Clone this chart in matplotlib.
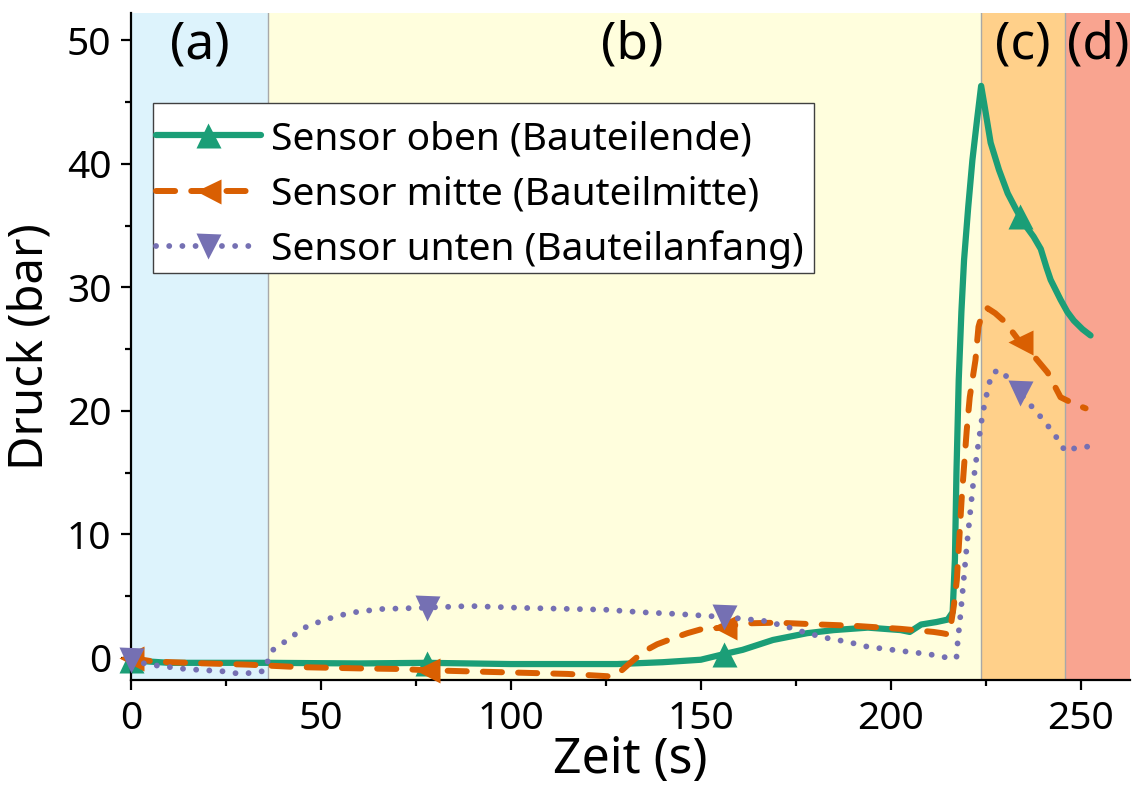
import numpy as np
import matplotlib
matplotlib.use("Agg")
import matplotlib.pyplot as plt
from matplotlib.lines import Line2D
from matplotlib.patches import Rectangle

plt.rcParams['font.family'] = ['Noto Sans', 'DejaVu Sans']

# ---- data ----
oben_x = [0, 10, 36, 60, 78, 100, 128, 140, 150, 156, 161, 169, 178, 185, 194, 202.6, 205, 208, 212, 215,
          216.3, 216.9, 217.3, 217.9, 218.6, 219.3, 220.4, 221.5, 222.7, 223.8, 224.8, 226.3, 228.5, 230.8,
          233, 235, 237.6, 239.5, 241.0, 242.1, 244.7, 246.5, 248.2, 250.5, 252.6]
oben_y = [-0.2, -0.4, -0.4, -0.45, -0.4, -0.5, -0.5, -0.35, -0.15, 0.3, 0.65, 1.45, 2.0, 2.25, 2.45, 2.25, 2.1, 2.7, 2.9, 3.1,
          3.7, 8, 15, 22.5, 28, 32.2, 36.5, 40.3, 43.5, 46.3, 44.5, 41.7, 39.5, 37.6,
          36.3, 35.2, 34.1, 33.1, 31.6, 30.6, 29.0, 28.0, 27.3, 26.6, 26.1]

mitte_x = [0, 6, 20, 31, 44.5, 60, 71, 78, 90, 102.5, 115, 123.5, 126.2, 128.5, 130.7, 134.9, 138.5, 142.8, 146.5,
           149.9, 155.7, 160, 163, 170, 181.5, 190.2, 202.6, 211.3, 213.5, 215.2, 215.9, 216.6, 217.4, 218.7, 220,
           220.8, 222.3, 223.1, 224.2, 225.5, 227.5, 229.7, 232, 234.2, 237.5, 241.3, 244.7, 248, 251.3]
mitte_y = [0, -0.3, -0.45, -0.55, -0.75, -0.85, -0.9, -1.0, -1.1, -1.2, -1.3, -1.45, -1.5, -1.2, -0.6, 0.5, 1.1, 1.6, 2.0,
           2.3, 2.45, 2.7, 2.8, 2.85, 2.7, 2.6, 2.35, 2.1, 2.0, 1.9, 2.8, 4.2, 6.3, 13, 18.4,
           21.1, 24.1, 26.8, 28.0, 28.3, 27.9, 27.3, 26.4, 25.5, 24.5, 23.1, 21.1, 20.6, 20.2]

unten_x = [0, 5, 14.2, 24.8, 28.7, 32.1, 35.3, 36.1, 37.4, 41.9, 45.3, 51.1, 57.7, 65.6, 76.1, 89.3, 102.5, 124.9,
           134.1, 144.1, 156.5, 166.5, 171.8, 178, 183.3, 188.6, 193.9, 199.2, 204.4, 210, 215.2, 217.3, 217.6,
           218.4, 220, 221.8, 223, 224.2, 225.8, 226.8, 228.9, 231, 235, 239.5, 242.9, 246, 248.7, 251.8]
unten_y = [-0.2, -0.55, -0.9, -1.1, -1.3, -1.2, -1.05, -0.15, 0.65, 1.6, 2.4, 3.1, 3.65, 3.95, 4.05, 4.2, 4.05, 3.9,
           3.7, 3.55, 3.3, 3.0, 2.6, 2.0, 1.6, 1.3, 0.9, 0.7, 0.5, 0.3, 0.0, 0.0, 1.2,
           3.6, 9.0, 14.4, 17.2, 19.8, 22.1, 23.1, 23.3, 22.6, 21.1, 19.5, 18.2, 16.7, 17.0, 17.1]

marker_times = [0, 78, 156, 234]

phase_bounds = [0, 36, 223.7, 246, 263]
phase_labels = ['(a)', '(b)', '(c)', '(d)']
phase_label_x = [18, 132, 234.8, 254.5]
phase_colors = ['#DDF3FC', '#FFFEDD', '#FFD08A', '#F9A490']

series_labels = ['Sensor oben (Bauteilende)', 'Sensor mitte (Bauteilmitte)', 'Sensor unten (Bauteilanfang)']

# ---- figure ----
fig = plt.figure(figsize=(11.33, 7.89), dpi=100)
ax = fig.add_axes([0.1156, 0.138, 0.9974 - 0.1156, 0.9835 - 0.138])
ax.set_xlim(0, 263)
ax.set_ylim(-1.8, 52.2)

for i in range(4):
    ax.axvspan(phase_bounds[i], phase_bounds[i + 1], color=phase_colors[i], lw=0, zorder=0)
    ax.text(phase_label_x[i], 49.6, phase_labels[i], ha='center', va='center', fontsize=37, zorder=1)
for b in phase_bounds[1:4]:
    ax.axvline(b, color='#A8A8A8', lw=1.0, zorder=0.5)

green, orange, purple = '#1B9E77', '#D95F02', '#7570B3'
styles = [
    dict(color=green, lw=4.5, ls='-', solid_capstyle='round', solid_joinstyle='round'),
    dict(color=orange, lw=4.3, ls=(0, (3.2, 2.7)), dash_capstyle='round'),
    dict(color=purple, lw=4.2, ls=(0, (0.01, 2.25)), dash_capstyle='round'),
]
markers = ['^', '<', 'v']
data = [(oben_x, oben_y), (mitte_x, mitte_y), (unten_x, unten_y)]

handles = []
for k, ((xs, ys), st, mk) in enumerate(zip(data, styles, markers)):
    ax.plot(xs, ys, zorder=2 + k, **st)
    my = np.interp(marker_times, xs, ys)
    ax.plot(marker_times, my, ls='none', marker=mk, ms=18, color=st['color'], mec='none',
            zorder=2.5 + k, clip_on=False)
    handles.append(Line2D([], [], marker=mk, ms=18, mec='none', **st))

leg = ax.legend(handles, series_labels, loc='upper left', bbox_to_anchor=(0.025, 0.8396),
                borderaxespad=0, fontsize=28, handlelength=2.7, handletextpad=0.26,
                labelspacing=0.44, borderpad=0.0, frameon=False)
leg.set_zorder(10)

ax.spines['top'].set_visible(False)
ax.spines['right'].set_visible(False)
for s in ['left', 'bottom']:
    ax.spines[s].set_linewidth(1.6)
ax.set_xticks([0, 50, 100, 150, 200, 250])
ax.set_xticks(np.arange(25, 263, 50), minor=True)
ax.set_yticks([0, 10, 20, 30, 40, 50])
ax.set_yticks([5, 15, 25, 35, 45], minor=True)
ax.tick_params(which='major', direction='out', length=7, width=1.6, labelsize=28, pad=7)
ax.tick_params(which='minor', direction='out', length=4, width=1.6)
ax.set_xlabel('Zeit (s)', fontsize=36, labelpad=-2)
ax.set_ylabel('Druck (bar)', fontsize=34, labelpad=10)

# legend frame drawn around the legend's own extent
fig.canvas.draw()
bb = leg.get_window_extent(fig.canvas.get_renderer())
W, H = fig.bbox.width, fig.bbox.height
pad_l, pad_r, pad_t, pad_b = 3, 10, 17, 4
frame = Rectangle(((bb.x0 - pad_l) / W, (bb.y0 - pad_b) / H),
                  (bb.width + pad_l + pad_r) / W, (bb.height + pad_t + pad_b) / H,
                  transform=fig.transFigure, facecolor='white', edgecolor='#404040',
                  lw=1.0, zorder=9)
ax.add_artist(frame)
frame.set_clip_on(False)

fig.savefig('out.png', dpi=100)
